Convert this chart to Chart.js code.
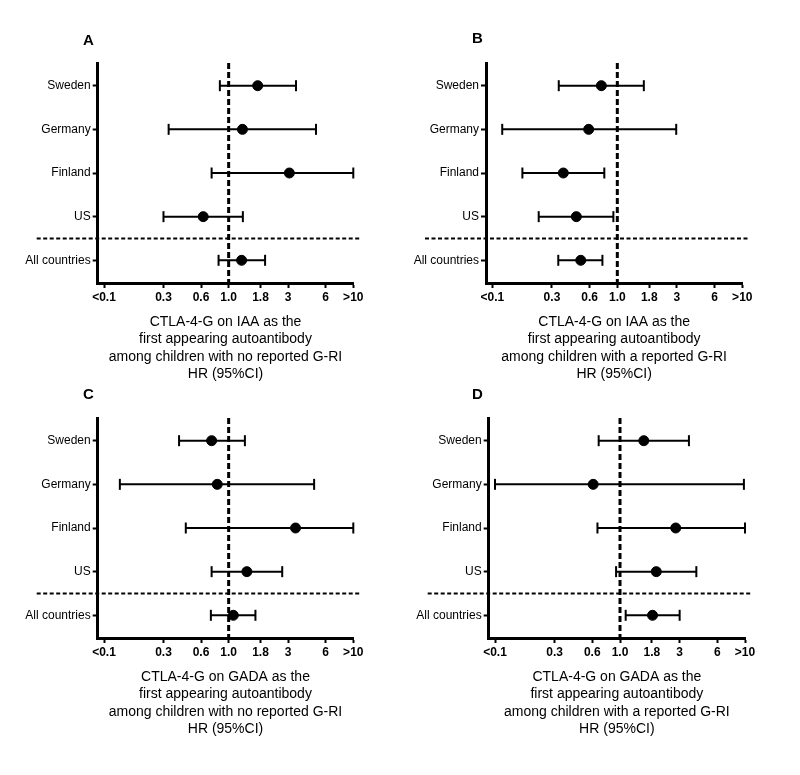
<!DOCTYPE html>
<html>
<head>
<meta charset="utf-8">
<script src="https://cdn.jsdelivr.net/npm/chart.js@4.4.1/dist/chart.umd.min.js"></script>
<style>
  body { margin: 0; background: #fff; }
  #wrap { position: relative; width: 800px; height: 775px; }
  canvas { position: absolute; }
  .letter { position: absolute; font: bold 15px "Liberation Sans", Arial, sans-serif; color: #000; }
</style>
</head>
<body>
<div id="wrap">
  <canvas id="chartA" width="400" height="390" style="left:0;top:0"></canvas>
  <canvas id="chartB" width="400" height="390" style="left:400px;top:0"></canvas>
  <canvas id="chartC" width="400" height="355" style="left:0;top:390px"></canvas>
  <canvas id="chartD" width="400" height="355" style="left:400px;top:390px"></canvas>
  <div class="letter" style="left:83px;top:31px">A</div>
  <div class="letter" style="left:472px;top:29px">B</div>
  <div class="letter" style="left:83px;top:385px">C</div>
  <div class="letter" style="left:472px;top:385px">D</div>
</div>
<script>
const countries = ["Sweden", "Germany", "Finland", "US", "All countries"];
const xTicks = [0.1, 0.3, 0.6, 1.0, 1.8, 3, 6, 10];
const xTickLabels = ["<0.1", "0.3", "0.6", "1.0", "1.8", "3", "6", ">10"];

// panel A
const hrA = [1.71, 1.29, 3.07, 0.625, 1.27];
const loA = [0.85, 0.33, 0.73, 0.30, 0.83];
const hiA = [3.47, 5.02, 10, 1.30, 1.96];
// panel B
const hrB = [0.745, 0.59, 0.37, 0.47, 0.51];
const loB = [0.34, 0.12, 0.174, 0.235, 0.337];
const hiB = [1.63, 2.96, 0.787, 0.93, 0.76];
// panel C
const hrC = [0.73, 0.81, 3.44, 1.40, 1.09];
const loC = [0.40, 0.134, 0.453, 0.73, 0.72];
const hiC = [1.35, 4.85, 10, 2.69, 1.64];
// panel D
const hrD = [1.55, 0.61, 2.79, 1.95, 1.82];
const loD = [0.675, 0.10, 0.66, 0.93, 1.11];
const hiD = [3.56, 9.8, 10, 4.08, 3.0];

const titleA = ["CTLA-4-G on IAA as the", "first appearing autoantibody", "among children with no reported G-RI", "HR (95%CI)"];
const titleB = ["CTLA-4-G on IAA as the", "first appearing autoantibody", "among children with a reported G-RI", "HR (95%CI)"];
const titleC = ["CTLA-4-G on GADA as the", "first appearing autoantibody", "among children with no reported G-RI", "HR (95%CI)"];
const titleD = ["CTLA-4-G on GADA as the", "first appearing autoantibody", "among children with a reported G-RI", "HR (95%CI)"];

const fontFamily = '"Liberation Sans", Arial, sans-serif';

// dashed reference line at HR = 1 and separator above "All countries"
const refLines = {
  id: "refLines",
  beforeDatasetsDraw(chart) {
    const ctx = chart.ctx;
    const x = chart.scales.x;
    const y = chart.scales.y;
    const area = chart.chartArea;
    ctx.save();
    ctx.strokeStyle = "#000";
    ctx.lineWidth = 3;
    ctx.setLineDash([6, 3]);
    const px = x.getPixelForValue(1);
    ctx.beginPath();
    ctx.moveTo(px, area.top);
    ctx.lineTo(px, area.bottom);
    ctx.stroke();
    ctx.lineWidth = 2;
    ctx.setLineDash([4, 2.5]);
    const py = y.getPixelForValue(3.5);
    ctx.beginPath();
    ctx.moveTo(area.left - 61, py);
    ctx.lineTo(area.right + 7, py);
    ctx.stroke();
    ctx.restore();
  }
};

function makePanel(id, hr, lo, hi, title, yWidth, padRight, padTop) {
  const ciSets = countries.map((c, i) => ({
    type: "scatter",
    showLine: true,
    data: [{ x: lo[i], y: i }, { x: hi[i], y: i }],
    borderColor: "#000",
    borderWidth: 2,
    pointStyle: "line",
    pointRotation: 90,
    pointRadius: 5.5,
    pointBorderWidth: 2,
    pointBorderColor: "#000",
    clip: false
  }));
  const dots = {
    type: "scatter",
    data: countries.map((c, i) => ({ x: hr[i], y: i })),
    backgroundColor: "#000",
    borderColor: "#000",
    pointRadius: 5,
    clip: false
  };

  new Chart(document.getElementById(id), {
    type: "scatter",
    data: { datasets: [dots].concat(ciSets) },
    options: {
      responsive: false,
      animation: false,
      devicePixelRatio: 1,
      layout: { padding: { left: 0, right: padRight, top: padTop, bottom: 7 } },
      plugins: { legend: { display: false }, tooltip: { enabled: false } },
      scales: {
        x: {
          type: "logarithmic",
          min: 0.089,
          max: 10,
          afterBuildTicks: (scale) => { scale.ticks = xTicks.map(v => ({ value: v })); },
          afterFit: (scale) => { scale.height = 100; },
          ticks: {
            autoSkip: false,
            maxRotation: 0,
            padding: 2,
            color: "#000",
            font: { family: fontFamily, size: 12, weight: "bold" },
            callback: (v, i) => xTickLabels[i]
          },
          grid: { drawOnChartArea: false, drawTicks: true, tickLength: 5, tickWidth: 2, tickColor: "#000", color: "#000" },
          border: { display: true, color: "#000", width: 3 },
          title: {
            display: true,
            text: title,
            color: "#000",
            padding: { top: 0, bottom: 0 },
            font: { family: fontFamily, size: 14, lineHeight: 1.24 }
          }
        },
        y: {
          type: "linear",
          reverse: true,
          min: -0.52,
          max: 4.52,
          afterBuildTicks: (scale) => { scale.ticks = countries.map((c, i) => ({ value: i })); },
          afterFit: (scale) => { scale.width = yWidth; },
          ticks: {
            padding: 2,
            color: "#000",
            font: { family: fontFamily, size: 12 },
            callback: (v) => countries[v]
          },
          grid: { drawOnChartArea: false, drawTicks: true, tickLength: 5, tickWidth: 2, tickColor: "#000", color: "#000" },
          border: { display: true, color: "#000", width: 3 }
        }
      }
    },
    plugins: [refLines]
  });
}

makePanel("chartA", hrA, loA, hiA, titleA, 97.7, 46.7, 63);
makePanel("chartB", hrB, loB, hiB, titleB, 86, 57.7, 63);
makePanel("chartC", hrC, loC, hiC, titleC, 97.7, 46.7, 28);
makePanel("chartD", hrD, loD, hiD, titleD, 88.7, 55, 28);
</script>
</body>
</html>
